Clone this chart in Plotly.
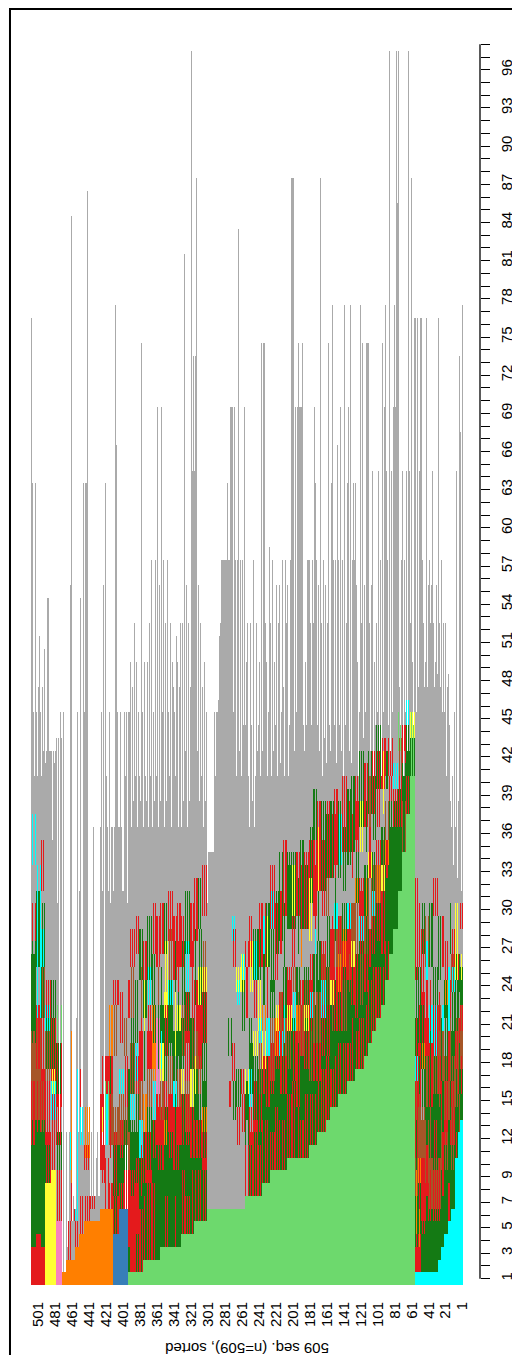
import plotly.graph_objects as go

# ---------------- data ----------------
STATE_CODES = ["C", "L", "D", "R", "O", "B", "P", "Y", "N", "A", "W"]
STATE_COLORS = ["#00FFFF", "#6DD96D", "#147A14", "#E41A1C", "#FF7F00", "#377EB8",
                "#F781BF", "#FFFF33", "#A65628", "#AAAAAA", "#FFFFFF"]

# groups of consecutive sequences (sorted order, seq 1 first)
GROUP_SIZES = [
    3, 3, 4, 4, 4, 4, 4, 4, 5, 5, 5, 4, 4, 4,
    5, 5, 5, 5, 5, 5, 5, 5, 5, 5, 5, 5, 5, 5, 5, 5, 5, 5, 5, 5, 5, 5, 5,
    5, 5, 5, 5, 5, 5, 5, 5, 5, 5, 5, 5, 5, 5, 5, 5, 5, 5, 5, 5, 5, 5, 5, 5, 5, 5, 5, 5, 5, 5, 5, 5, 5, 5,
    5, 5, 5, 5, 5, 5, 5, 5, 5, 5, 3,
    5, 5, 7,
    5, 5, 6, 6, 6, 6, 6, 5, 5, 6, 5,
    6, 6, 7, 5, 6, 6,
]

# state spells before the trailing grey spell; "|" separates alternating variants
GROUP_STATES = [
    "C13 D4 N3 R2 D3 A3 R2|C13 D2 R3 N4 D2 Y2",
    "C12 D3 R2 N4 D3 R2|C12 N3 D4 R2 A2 D3",
    "C10 D4 N3 R3 D4 Y6|C10 R2 D5 N4 A3 D2",
    "C6 D5 R3 N4 D5 C2 R3|C6 D3 N5 R2 D4 A3 N3",
    "C5 D6 R2 D3 N5 R3 A2 D4|C5 R3 D5 N3 R4 C5",
    "C4 D5 N3 R4 D6 O2 R3|C4 D7 R2 N5 A3 D3",
    "C3 D4 R5 D4 N4 C2 A3 R4|C3 D6 N4 R3 D5 A4",
    "C2 D4 N4 D5 R3 N4 A2 D5|C2 D3 R5 D4 N6 R3",
    "C1 D4 R4 D6 N3 R4 D3 A4 R3|C1 D5 N4 R3 D5 C4 A3",
    "C1 D5 N4 D4 R5 C3 A3 D5|C1 D4 R4 N5 D6 R4",
    "C1 D4 R3 N5 D5 R3 A4 N4|C1 D6 R4 D3 N4 R6 C3",
    "C1 D3 R6 N4 D3 O2 R4 A3 D4|C1 D4 R5 N3 A4 D5 R6",
    "C1 R2 O3 R4 N5 D3 R4 A3 R5|C1 R3 D4 O2 N4 R5 D6",
    "C1 R2 D4 N3 R6 C2 D3 A3 R8|C1 R3 O5 D4 N3 R5 D4",
    "L40 D3 Y2|L45 A2",
    "L37 R3 D4 C2|L37 D5",
    "L34 N4 D3 R3|L34 D6 A2 R2",
    "L31 D5 R4 N3|L31 D8 A3 L3",
    "L28 D8 R3 C2|L28 D10 A2",
    "L26 D12 R2|L26 D10 A4 R3",
    "L24 R3 D6 O2 N3 A2 R3|L24 D8 R3 A4 D3",
    "L22 D4 R5 Y2 D3 A3 R4|L22 R3 D6 N4 A2 Y5",
    "L21 R4 D5 N3 R2 A4 D5|L21 D6 R3 O3 A3 R6",
    "L20 D6 R3 C2 D3 A3 R5|L20 R5 D4 N4 A2 D5",
    "L19 R5 D4 N4 Y2 A3 D5|L19 D6 R3 A4 R4 N4",
    "L18 D5 R3 N3 D4 A3 R5|L18 R4 D7 O3 A2 D4",
    "L17 R4 D6 C2 R3 A4 D6|L17 D5 N4 R5 A3 Y4",
    "L17 D4 R5 N4 O2 A3 R5|L17 R3 D6 A4 D4 R4",
    "L16 D6 R3 Y2 N3 A4 D6|L16 R5 D4 N5 A2 R5",
    "L16 R3 D5 R4 C2 A3 D6|L16 D7 N3 R4 A4 R4",
    "L15 D5 N4 R3 D3 A4 R6|L15 R4 D6 O3 A3 D5",
    "L15 R4 D4 O3 R3 A3 D6|L15 D5 R5 N4 A4 C4",
    "L14 D6 R5 N3 C2 A3 R6|L14 R4 D6 A3 D5 R5",
    "L14 R3 D5 Y2 R4 A4 D6|L14 D6 N4 R5 A3 R5",
    "L13 D5 R4 N3 D4 A3 R6|L13 R5 D7 A4 N3 D5",
    "L12 R5 D4 C3 R3 A4 D7|L12 D6 R4 N4 A3 R6",
    "L12 D4 R3 N4 D4 A4 R7|L12 R4 D8 A3 D4 Y5",
    "L11 D5 R3 N4 D3 A3 R6 D4|L11 R4 D7 A4 C2 R5",
    "L11 R4 D6 C2 R3 A4 D6|L11 D5 N4 R4 A3 Y5 R3",
    "L10 D7 R3 Y2 D3 A3 R6|L10 R5 D6 N3 A4 D5",
    "L10 R3 D5 N4 R2 A4 D7|L10 D8 R4 A3 O3 R5",
    "L10 D4 R6 O2 D3 A4 R5|L10 R4 D5 N4 A3 D6",
    "L10 D6 R4 C3 N2 A3 D6|L10 R6 D5 A4 R4 Y4",
    "L10 R5 D5 Y2 R3 A3 D6|L10 D7 N3 R4 A4 D5",
    "L9 D6 R3 N3 D4 A4 R6|L9 R4 D6 C3 A3 D5",
    "L9 R4 D5 C2 R3 A4 D7|L9 D6 R5 N3 A3 R5",
    "L9 D8 R3 Y2 A4 D5|L9 R5 D4 O3 A3 R6",
    "L9 R3 D4 N5 D3 A4 R5|L9 D6 R4 A4 D5 C3",
    "L8 D6 R4 C3 A4 D5|L8 R5 D5 A3 R4 Y4",
    "L8 R5 D4 Y3 O2 A3 R5|L8 D7 R3 A4 D4 C3",
    "L7 D5 R3 N4 C2 A4 R5|L7 R4 D6 A3 Y4 D4",
    "L7 R6 D5 Y2 A4 D4|L7 D5 R4 A5 R3 C3",
    "L7 D4 R3 C3 D4 A4 R4|L7 R5 A3 D4 A4 Y4",
    "L7 R4 D4 Y2 A8 R2|L7 A6 D3 A5 R4",
    "L6 A6 R3 A5 D4 C2|L6 A9 R2 A6 Y3",
    "L6 A8 D3 A6 Y2|L6 A5 R3 A8 C2",
    "L6 A10 R3 A8 C2|L6 A7 D3 A9 R3",
    "L6 A12 D3 A6|L6 A8 R2 A10",
    "L6", "L6", "L6", "L6", "L6",
    "L5 D4 R3 O2 D5 R4 Y2 A4 R4|L5 R5 D6 A3 D4 N4",
    "L5 R4 D6 N3 R4 Y3 A3 D4|L5 D5 R3 A4 R5 D6",
    "L5 D5 R3 D4 N3 R4 A3 R5|L5 R4 D6 Y3 A4 D6",
    "L4 D6 R4 Y3 D4 A4 R5|L4 R5 D5 A3 N4 R6",
    "L4 R3 D5 N4 R4 D3 A3 D5|L4 D7 R4 A4 R4 C4",
    "L4 D7 R4 Y2 D4 A4 R4|L4 R5 D6 A3 N4 D5",
    "L3 D8 R3 N3 D3 Y2 A3 R5|L3 D6 R5 A4 D5 R4",
    "L3 D6 R5 C2 D4 A4 R5|L3 R4 D8 A3 Y5 D4",
    "L3 D9 R3 N3 D4 C2 A3 R4|L3 D7 R5 A4 D5 N4",
    "L3 D8 O2 R3 D5 Y2 A3 D4|L3 R4 D7 A4 R4 Y5",
    "L3 D6 R4 N3 Y3 D3 A4 R4|L3 D8 R3 A3 C3 D5",
    "L2 D9 R4 P6 A4 R4|L2 D7 R5 A3 D5 N3",
    "L2 D8 R3 C3 O3 D3 A4 R4|L2 R6 D5 A4 O5 D4",
    "L2 R7 D5 N3 R3 A4 D5|L2 D6 R4 A5 R5 C3",
    "L2 D6 R4 O3 A6 D3 R3|L2 R5 D5 A4 D4 Y4",
    "L1 R5 D4 C3 N3 R4 A4 D4|L1 D6 R4 A5 R5 N4",
    "L1 D3 R6 D5 R3 A8 R3|L1 R7 D4 A4 C3 D5",
    "L1 R8 D4 C2 N4 A6 R3|L1 R6 D5 A3 D6 N4",
    "L1 D2 R6 N3 D5 A4 R3|L1 R5 D4 A5 R4",
    "B6 W5 N3 R4 A6|B6 R3 D4 A5 N3",
    "B6 R2 D3 N4 C2 A5|B6 D4 R3 A6 R4",
    "B4 R3 D4 N3 A8 R2|B4 D3 R5 A6 N4",
    "O6 R2 A3 N4 R3 O4|O6 A4 R5 D3",
    "O6 R4 A3 L3 R2 A4|O6 A5 C4 R3",
    "O6 A2 R3 W1 Y2 R4|O6 A3 R6",
    "O5 A1",
    "O5 A1 R3 C4|O5 A2",
    "O5 R2 A3 O4|O5 A4 R2",
    "O4 R3 A4 C3 R3|O4 A2",
    "O3 R2 C12 A3|O3 A3",
    "O2 A3 R3 O12|O2 A2",
    "O2 R3 A4 C3|O2 A1",
    "O1",
    "P5 R4 D3 A2 R5 L3|P5 A6 R4 D4",
    "Y9 R6 Y2 D4 A3|Y9 A4 C3 R5 D3",
    "Y8 D3 R5 N4 C2 A5|Y8 R4 A5 D4 R3",
    "R3 D9 N4 R5 D4 C3 A3 R4|R3 D10 R4 A4 N4 D5",
    "R4 D8 R4 N5 C12 A3|R4 D9 N4 R5 A3 D6",
    "R3 D10 N6 D8 R3 A3 C4|R3 D8 R5 N4 D6 A4",
]

# total length of every sequence in each group
GROUP_LENGTHS = [
    [77, 31, 67], [35, 73, 38], [32, 64, 36, 42], [45, 33, 40, 36],
    [38, 44, 32, 48], [47, 40, 52, 45], [52, 47, 45, 57], [47, 52, 76, 55],
    [48, 55, 49, 47, 52], [64, 47, 55, 52, 57], [55, 47, 87, 76, 49], [47, 52, 57, 76],
    [52, 76, 64, 47], [76, 45, 76, 55],
    [76, 44, 49, 87, 52], [55, 64, 97, 42, 64], [45, 57, 85, 40, 64], [57, 44, 47, 97, 42],
    [85, 97, 69, 77, 69], [69, 45, 64, 42, 97], [44, 57, 41, 64, 77], [69, 45, 74, 49, 40],
    [57, 42, 64, 45, 52], [77, 44, 49, 40, 64], [55, 42, 47, 52, 74], [74, 74, 45, 40, 55],
    [43, 74, 52, 77, 45], [52, 40, 49, 55, 63], [57, 44, 63, 57, 41], [77, 42, 69, 57, 63],
    [52, 44, 77, 40, 57], [55, 42, 69, 44, 57], [66, 45, 41, 57, 44], [57, 77, 63, 63, 42],
    [44, 74, 52, 41, 57], [55, 43, 57, 40, 52], [87, 57, 42, 55, 44],
    [57, 63, 69, 45, 52], [57, 44, 52, 57, 41], [57, 57, 44, 49, 42], [44, 55, 74, 69, 69],
    [69, 74, 69, 69, 45], [69, 42, 87, 87, 57], [87, 57, 44, 40, 55], [52, 42, 57, 40, 47],
    [57, 45, 49, 41, 55], [52, 40, 55, 44, 49], [49, 42, 57, 40, 52], [58, 43, 45, 40, 49],
    [52, 74, 77, 74, 42], [74, 40, 49, 44, 38], [42, 52, 40, 36, 57], [57, 38, 44, 52, 36],
    [40, 52, 38, 49, 44], [69, 44, 57, 40, 55], [57, 42, 83, 57, 40], [57, 57, 69, 45, 69],
    [69, 69, 63, 57, 57], [63, 57, 57, 57, 57], [57, 57, 57, 52, 51], [45, 46, 45, 45, 40],
    [45, 34, 34, 34, 34], [34, 34, 34, 33, 30],
    [45, 38, 49, 36, 47], [49, 40, 52, 38, 55], [42, 88, 87, 73, 64], [73, 64, 97, 40, 47],
    [38, 52, 36, 55, 42], [40, 81, 38, 52, 36], [52, 38, 47, 36, 49], [51, 40, 45, 38, 47],
    [49, 36, 52, 40, 45], [45, 57, 38, 52, 36], [57, 40, 45, 69, 38], [55, 36, 69, 45, 40],
    [57, 38, 45, 36, 47], [57, 40, 52, 36, 49], [38, 52, 40, 49, 36], [45, 74, 38, 47, 40],
    [45, 36, 49, 40, 47], [52, 38, 47, 36, 49], [45, 37, 45],
    [30, 45, 40, 45, 31], [31, 31, 36, 45, 36], [36, 31, 45, 66, 77, 36, 31],
    [36, 76, 36, 30, 45], [31, 36, 31, 40, 63], [12, 55, 31, 45, 9, 36], [7, 7, 12, 10, 54, 7],
    [7, 36, 7, 12, 7, 21], [14, 12, 86, 63, 63, 45], [55, 63, 14, 12, 54, 31],
    [20, 12, 45, 21, 6], [6, 7, 20, 5, 84], [55, 12, 5, 3, 30, 12], [1, 1, 45, 1, 2],
    [43, 45, 12, 43, 30, 43], [63, 42, 41, 42, 35, 42], [41, 42, 42, 54, 54, 42, 41],
    [76, 50, 42, 47, 40], [45, 51, 36, 47, 40, 45], [63, 40, 36, 45, 63, 76],
]

TIME_TICK_LABELS = [1, 3, 5, 7, 9, 12, 15, 18, 21, 24, 27, 30, 33, 36, 39, 42, 45, 48,
                    51, 54, 57, 60, 63, 66, 69, 72, 75, 78, 81, 84, 87, 90, 93, 96]
SEQ_TICK_LABELS = [1, 21, 41, 61, 81, 101, 121, 141, 161, 181, 201, 221, 241, 261,
                   281, 301, 321, 341, 361, 381, 401, 421, 441, 461, 481, 501]
MAX_T = 98
Y_TITLE = "509 seq. (n=509), sorted"

# ---------------- build matrix ----------------
code_idx = {c: i for i, c in enumerate(STATE_CODES)}
columns = []
for size, spec, lens in zip(GROUP_SIZES, GROUP_STATES, GROUP_LENGTHS):
    variants = []
    for part in spec.split("|"):
        base = []
        for tok in part.split():
            base += [tok[0]] * int(tok[1:])
        variants.append(base)
    for j, L in enumerate(lens):
        base = variants[j % len(variants)]
        seq = (base + ["A"] * max(0, L - len(base)))[:L]
        columns.append([code_idx[s] for s in seq])

n_cols = len(columns)
z = [[None] * n_cols for _ in range(MAX_T)]
for s, col in enumerate(columns):
    for t, v in enumerate(col):
        z[t][s] = v

n = len(STATE_CODES)
colorscale = []
for i, c in enumerate(STATE_COLORS):
    colorscale.append([i / n, c])
    colorscale.append([(i + 1) / n, c])

fig = go.Figure()
fig.add_trace(go.Heatmap(
    z=z,
    x=list(range(1, n_cols + 1)),
    y=list(range(1, MAX_T + 1)),
    zmin=-0.5, zmax=n - 0.5,
    colorscale=colorscale,
    showscale=False,
    hoverinfo="skip",
    zsmooth=False,
))

ytickvals = list(range(1, MAX_T + 1))
yticktext = [str(v) if v in TIME_TICK_LABELS else "" for v in ytickvals]

font = dict(family="Liberation Sans, Arial, sans-serif", size=15, color="black")

fig.update_layout(
    width=520, height=1355,
    margin=dict(l=23, r=48, t=30, b=78),
    paper_bgcolor="white", plot_bgcolor="white",
    font=font,
    xaxis=dict(
        range=[509.5, -19.53], tickvals=SEQ_TICK_LABELS,
        ticktext=[str(v) for v in SEQ_TICK_LABELS],
        tickangle=-90, showgrid=False, zeroline=False, showline=False,
        ticks="outside", ticklen=10, tickcolor="rgba(0,0,0,0)", tickfont=font,
    ),
    yaxis=dict(
        range=[0.5, 98.5], side="right", tickvals=ytickvals, ticktext=yticktext,
        tickangle=-90, showgrid=False, zeroline=False, showline=False,
        ticks="outside", ticklen=9, tickwidth=1.3, tickcolor="black", tickfont=font,
        ticklabelstandoff=4,
    ),
    shapes=[
        dict(type="line", xref="paper", yref="y", x0=1, x1=1, y0=1, y1=98,
             line=dict(color="black", width=1.3)),
        dict(type="rect", xref="paper", yref="paper", x0=-0.0468, x1=1.1002,
             y0=-0.0609, y1=1.0232, line=dict(color="black", width=2)),
    ],
    annotations=[
        dict(text=Y_TITLE, xref="paper", yref="paper", x=0.481, y=-0.0505,
             showarrow=False, textangle=180, font=font,
             xanchor="center", yanchor="middle"),
    ],
)

fig.write_html("out.html")
